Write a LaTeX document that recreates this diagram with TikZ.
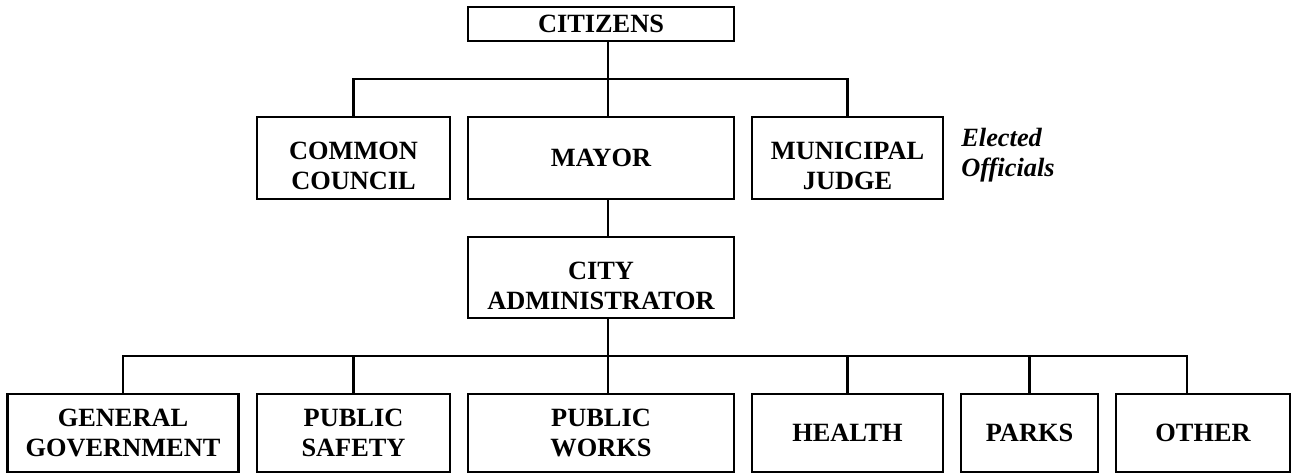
\documentclass[tikz,border=0pt]{standalone}
\usepackage{fontspec}
\setmainfont{Liberation Serif}
\newcommand*{\boxtextstyle}{\fontsize{15}{17}\selectfont\bfseries}
\newcommand*{\sidetextstyle}{\fontsize{15}{17}\selectfont\bfseries\itshape}
\newcommand*{\dropline}{\rule{0pt}{19pt}}
\tikzset{
  orgbox/.style = {draw=black, line width=1.2pt, inner sep=0pt,
                   font=\boxtextstyle, align=center},
  orgline/.style = {line width=1.2pt}
}

\begin{document}
\begin{tikzpicture}[x=0.2mm, y=-0.2mm]
    \useasboundingbox (0,0) rectangle (1299,473);

    % elected level
    \node[orgbox, minimum width=53.2mm, minimum height=6.8mm] (citizens) at (601,24) {CITIZENS};
    \node[orgbox, minimum width=38.6mm, minimum height=16.4mm] (council) at (353.5,158) {\dropline COMMON\\ COUNCIL};
    \node[orgbox, minimum width=53.2mm, minimum height=16.4mm] (mayor) at (601,158) {MAYOR};
    \node[orgbox, minimum width=38.2mm, minimum height=16.4mm] (judge) at (847.5,158) {\dropline MUNICIPAL\\ JUDGE};
    \node[anchor=west, inner sep=0pt, font=\sidetextstyle, align=left] (elected) at (961,155)
      {Elected\\ Officials};

    \node[orgbox, minimum width=53.2mm, minimum height=16.2mm] (admin) at (601,277.5) {\dropline CITY\\ ADMINISTRATOR};

    % departments
    \node[orgbox, minimum width=46.2mm, minimum height=15.6mm] (gengov) at (123,433) {GENERAL\\ GOVERNMENT};
    \node[orgbox, minimum width=38.6mm, minimum height=15.6mm] (safety) at (353.5,433) {PUBLIC\\ SAFETY};
    \node[orgbox, minimum width=53.2mm, minimum height=15.6mm] (works) at (601,433) {PUBLIC\\ WORKS};
    \node[orgbox, minimum width=38.2mm, minimum height=15.6mm] (health) at (847.5,433) {HEALTH};
    \node[orgbox, minimum width=27.4mm, minimum height=15.6mm] (parks) at (1029.5,433) {PARKS};
    \node[orgbox, minimum width=34.8mm, minimum height=15.6mm] (other) at (1203,433) {OTHER};

    \coordinate (trunk) at (608,0);
    \coordinate (topbus) at (608,79);
    \coordinate (lowbus) at (608,356);
    \coordinate (otherjoin) at (1187,356);

    \draw[orgline] (citizens.south -| trunk) -- (mayor.north -| trunk);
    \draw[orgline] (council.north) |- (topbus) -| (judge.north);
    \draw[orgline] (mayor.south -| trunk) -- (admin.north -| trunk);
    \draw[orgline] (admin.south -| trunk) -- (works.north -| trunk);
    \draw[orgline] (gengov.north) |- (otherjoin) -- (otherjoin |- other.north);
    \foreach \dept in {safety, health, parks}
      \draw[orgline] (\dept.north) -- (\dept.north |- lowbus);

\end{tikzpicture}
\end{document}
